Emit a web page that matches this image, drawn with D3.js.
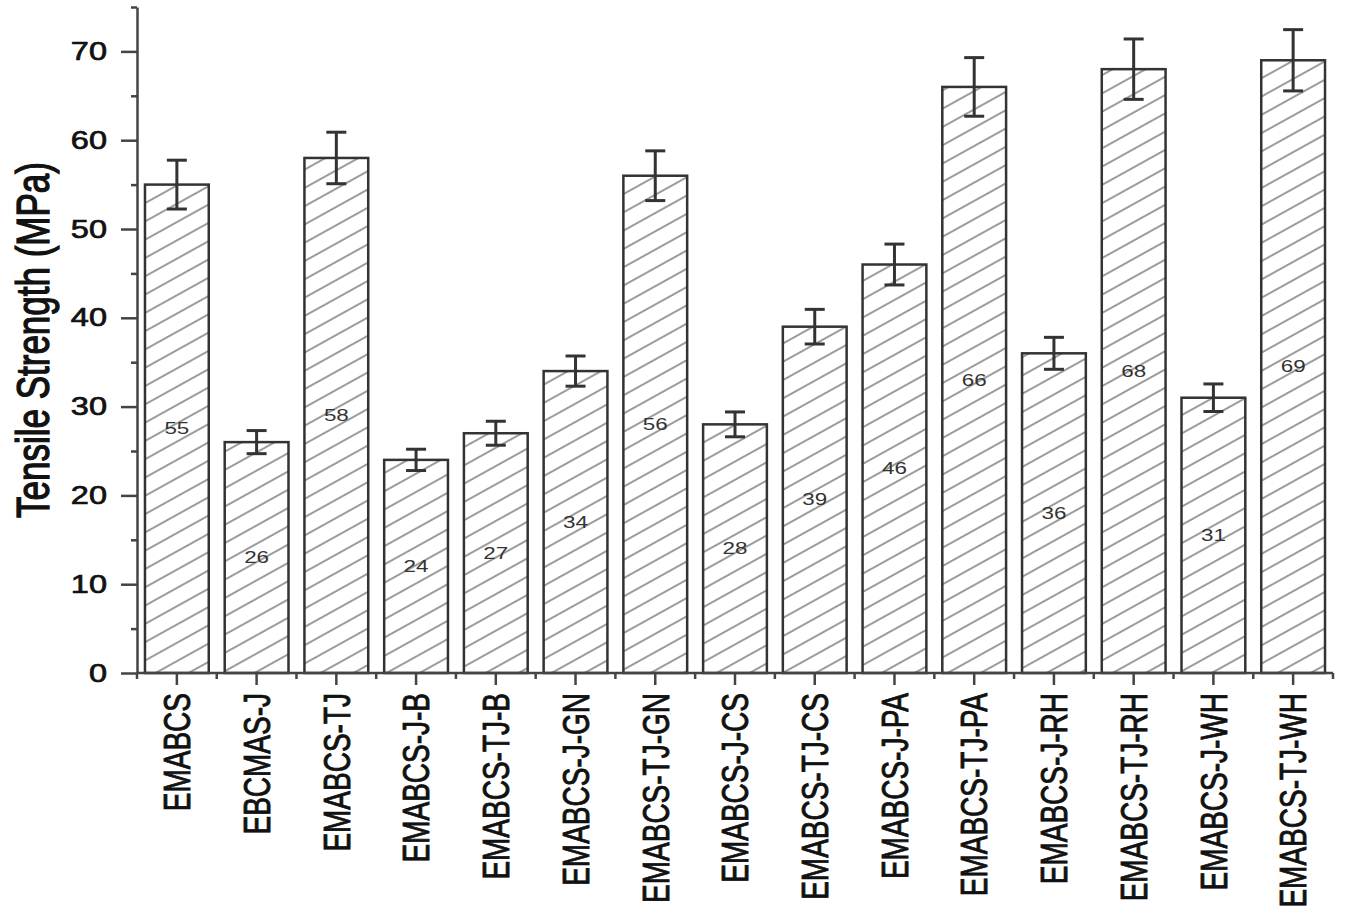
<!DOCTYPE html>
<html>
<head>
  <meta charset="utf-8">
  <script src="https://cdnjs.cloudflare.com/ajax/libs/d3/7.8.5/d3.min.js"></script>
  <title>Tensile Strength</title>
  <style>
    body { margin: 0; background: #fff; }
    text { font-family: "Liberation Sans", Arial, sans-serif; fill: #111; }
    .heavy { stroke: #111; stroke-width: 0.7px; }
    .axis path, .axis line { stroke: #444; stroke-width: 2.5px; }
  </style>
</head>
<body>
<script>
const samples = ["EMABCS", "EBCMAS-J", "EMABCS-TJ", "EMABCS-J-B", "EMABCS-TJ-B",
  "EMABCS-J-GN", "EMABCS-TJ-GN", "EMABCS-J-CS", "EMABCS-TJ-CS", "EMABCS-J-PA",
  "EMABCS-TJ-PA", "EMABCS-J-RH", "EMABCS-TJ-RH", "EMABCS-J-WH", "EMABCS-TJ-WH"];
const strength = [55, 26, 58, 24, 27, 34, 56, 28, 39, 46, 66, 36, 68, 31, 69];
const errors = [2.75, 1.3, 2.9, 1.2, 1.35, 1.7, 2.8, 1.4, 1.95, 2.3, 3.3, 1.8, 3.4, 1.55, 3.45];
const majorTicks = [0, 10, 20, 30, 40, 50, 60, 70];
const minorTicks = [5, 15, 25, 35, 45, 55, 65, 75];

const data = samples.map((s, i) => ({name: s, value: strength[i], err: errors[i]}));

const width = 1350, height = 921;
const plotLeft = 137, plotRight = 1333, plotTop = 7, plotBottom = 673;
const stretch = 1.3; // text in the figure looks wider than it is tall

const svg = d3.select("body").append("svg")
    .attr("width", width)
    .attr("height", height);

// hatch fill
svg.append("defs").append("pattern")
    .attr("id", "hatch")
    .attr("patternUnits", "userSpaceOnUse")
    .attr("width", 10)
    .attr("height", 16)
    .attr("patternTransform", "rotate(-29)")
  .append("line")
    .attr("x1", 0).attr("x2", 10)
    .attr("y1", 8).attr("y2", 8)
    .attr("stroke", "#666")
    .attr("stroke-width", 1.3);

const x = d3.scaleBand()
    .domain(samples)
    .range([plotLeft, plotRight])
    .paddingInner(0.2)
    .paddingOuter(0.1);

const y = d3.scaleLinear()
    .domain([0, 75])
    .range([plotBottom, plotTop]);

// bars
svg.selectAll("rect.bar")
  .data(data)
  .enter().append("rect")
    .attr("class", "bar")
    .attr("x", d => x(d.name))
    .attr("y", d => y(d.value))
    .attr("width", x.bandwidth())
    .attr("height", d => y(0) - y(d.value))
    .attr("fill", "url(#hatch)")
    .attr("stroke", "#333")
    .attr("stroke-width", 2.5);

// value labels in the middle of each bar
svg.selectAll("text.val")
  .data(data)
  .enter().append("text")
    .attr("class", "val")
    .attr("transform", d => "translate(" + (x(d.name) + x.bandwidth() / 2) + "," + y(d.value / 2) + ") scale(1.4,1)")
    .attr("dy", "0.35em")
    .attr("text-anchor", "middle")
    .style("font-size", "16px")
    .style("fill", "#333")
    .text(d => d.value);

// error bars
const eb = svg.selectAll("g.err")
  .data(data)
  .enter().append("g")
    .attr("class", "err")
    .attr("stroke", "#333")
    .attr("stroke-width", 3);
const cx = d => x(d.name) + x.bandwidth() / 2;
eb.append("line")
    .attr("x1", cx).attr("x2", cx)
    .attr("y1", d => y(d.value + d.err))
    .attr("y2", d => y(d.value - d.err));
eb.append("line")
    .attr("x1", d => cx(d) - 10).attr("x2", d => cx(d) + 10)
    .attr("y1", d => y(d.value + d.err)).attr("y2", d => y(d.value + d.err));
eb.append("line")
    .attr("x1", d => cx(d) - 10).attr("x2", d => cx(d) + 10)
    .attr("y1", d => y(d.value - d.err)).attr("y2", d => y(d.value - d.err));

// y axis
const yAxis = svg.append("g")
    .attr("class", "axis")
    .attr("transform", "translate(" + plotLeft + ",0)")
    .call(d3.axisLeft(y).tickValues(majorTicks).tickSize(16).tickSizeOuter(0).tickPadding(14));
yAxis.selectAll("text")
    .attr("class", "heavy")
    .attr("x", null)
    .attr("transform", "translate(-30,0) scale(" + stretch + ",1)")
    .style("font-size", "25px");
svg.append("g")
    .attr("class", "axis")
    .attr("transform", "translate(" + plotLeft + ",0)")
    .call(d3.axisLeft(y).tickValues(minorTicks).tickSize(6).tickFormat(""))
    .select(".domain").remove();

// x axis
const xAxis = svg.append("g")
    .attr("class", "axis")
    .attr("transform", "translate(0," + plotBottom + ")")
    .call(d3.axisBottom(x).tickSize(12).tickSizeOuter(0).tickFormat(""));
xAxis.select(".domain").attr("d", "M" + plotLeft + ",0H" + plotRight);
xAxis.selectAll(".tick").append("text")
    .attr("class", "heavy")
    .attr("transform", "translate(0,20) scale(1.35,1) rotate(-90)")
    .attr("dy", "0.35em")
    .attr("text-anchor", "end")
    .style("font-size", "28px")
    .text(d => d);

// minor x ticks between bars
const bounds = samples.map(s => x(s) - x.step() * x.paddingOuter());
bounds.push(plotRight);
xAxis.selectAll("line.minor")
  .data(bounds)
  .enter().append("line")
    .attr("class", "minor")
    .attr("x1", d => d).attr("x2", d => d)
    .attr("y1", 0).attr("y2", 6)
    .attr("stroke", "#444")
    .attr("stroke-width", 2.5);

// y axis title
svg.append("text")
    .attr("class", "heavy")
    .attr("transform", "translate(33," + ((plotTop + plotBottom) / 2) + ") scale(" + stretch + ",1) rotate(-90)")
    .attr("dy", "0.35em")
    .attr("text-anchor", "middle")
    .style("font-size", "35px")
    .style("stroke-width", "1px")
    .text("Tensile Strength (MPa)");
</script>
</body>
</html>
